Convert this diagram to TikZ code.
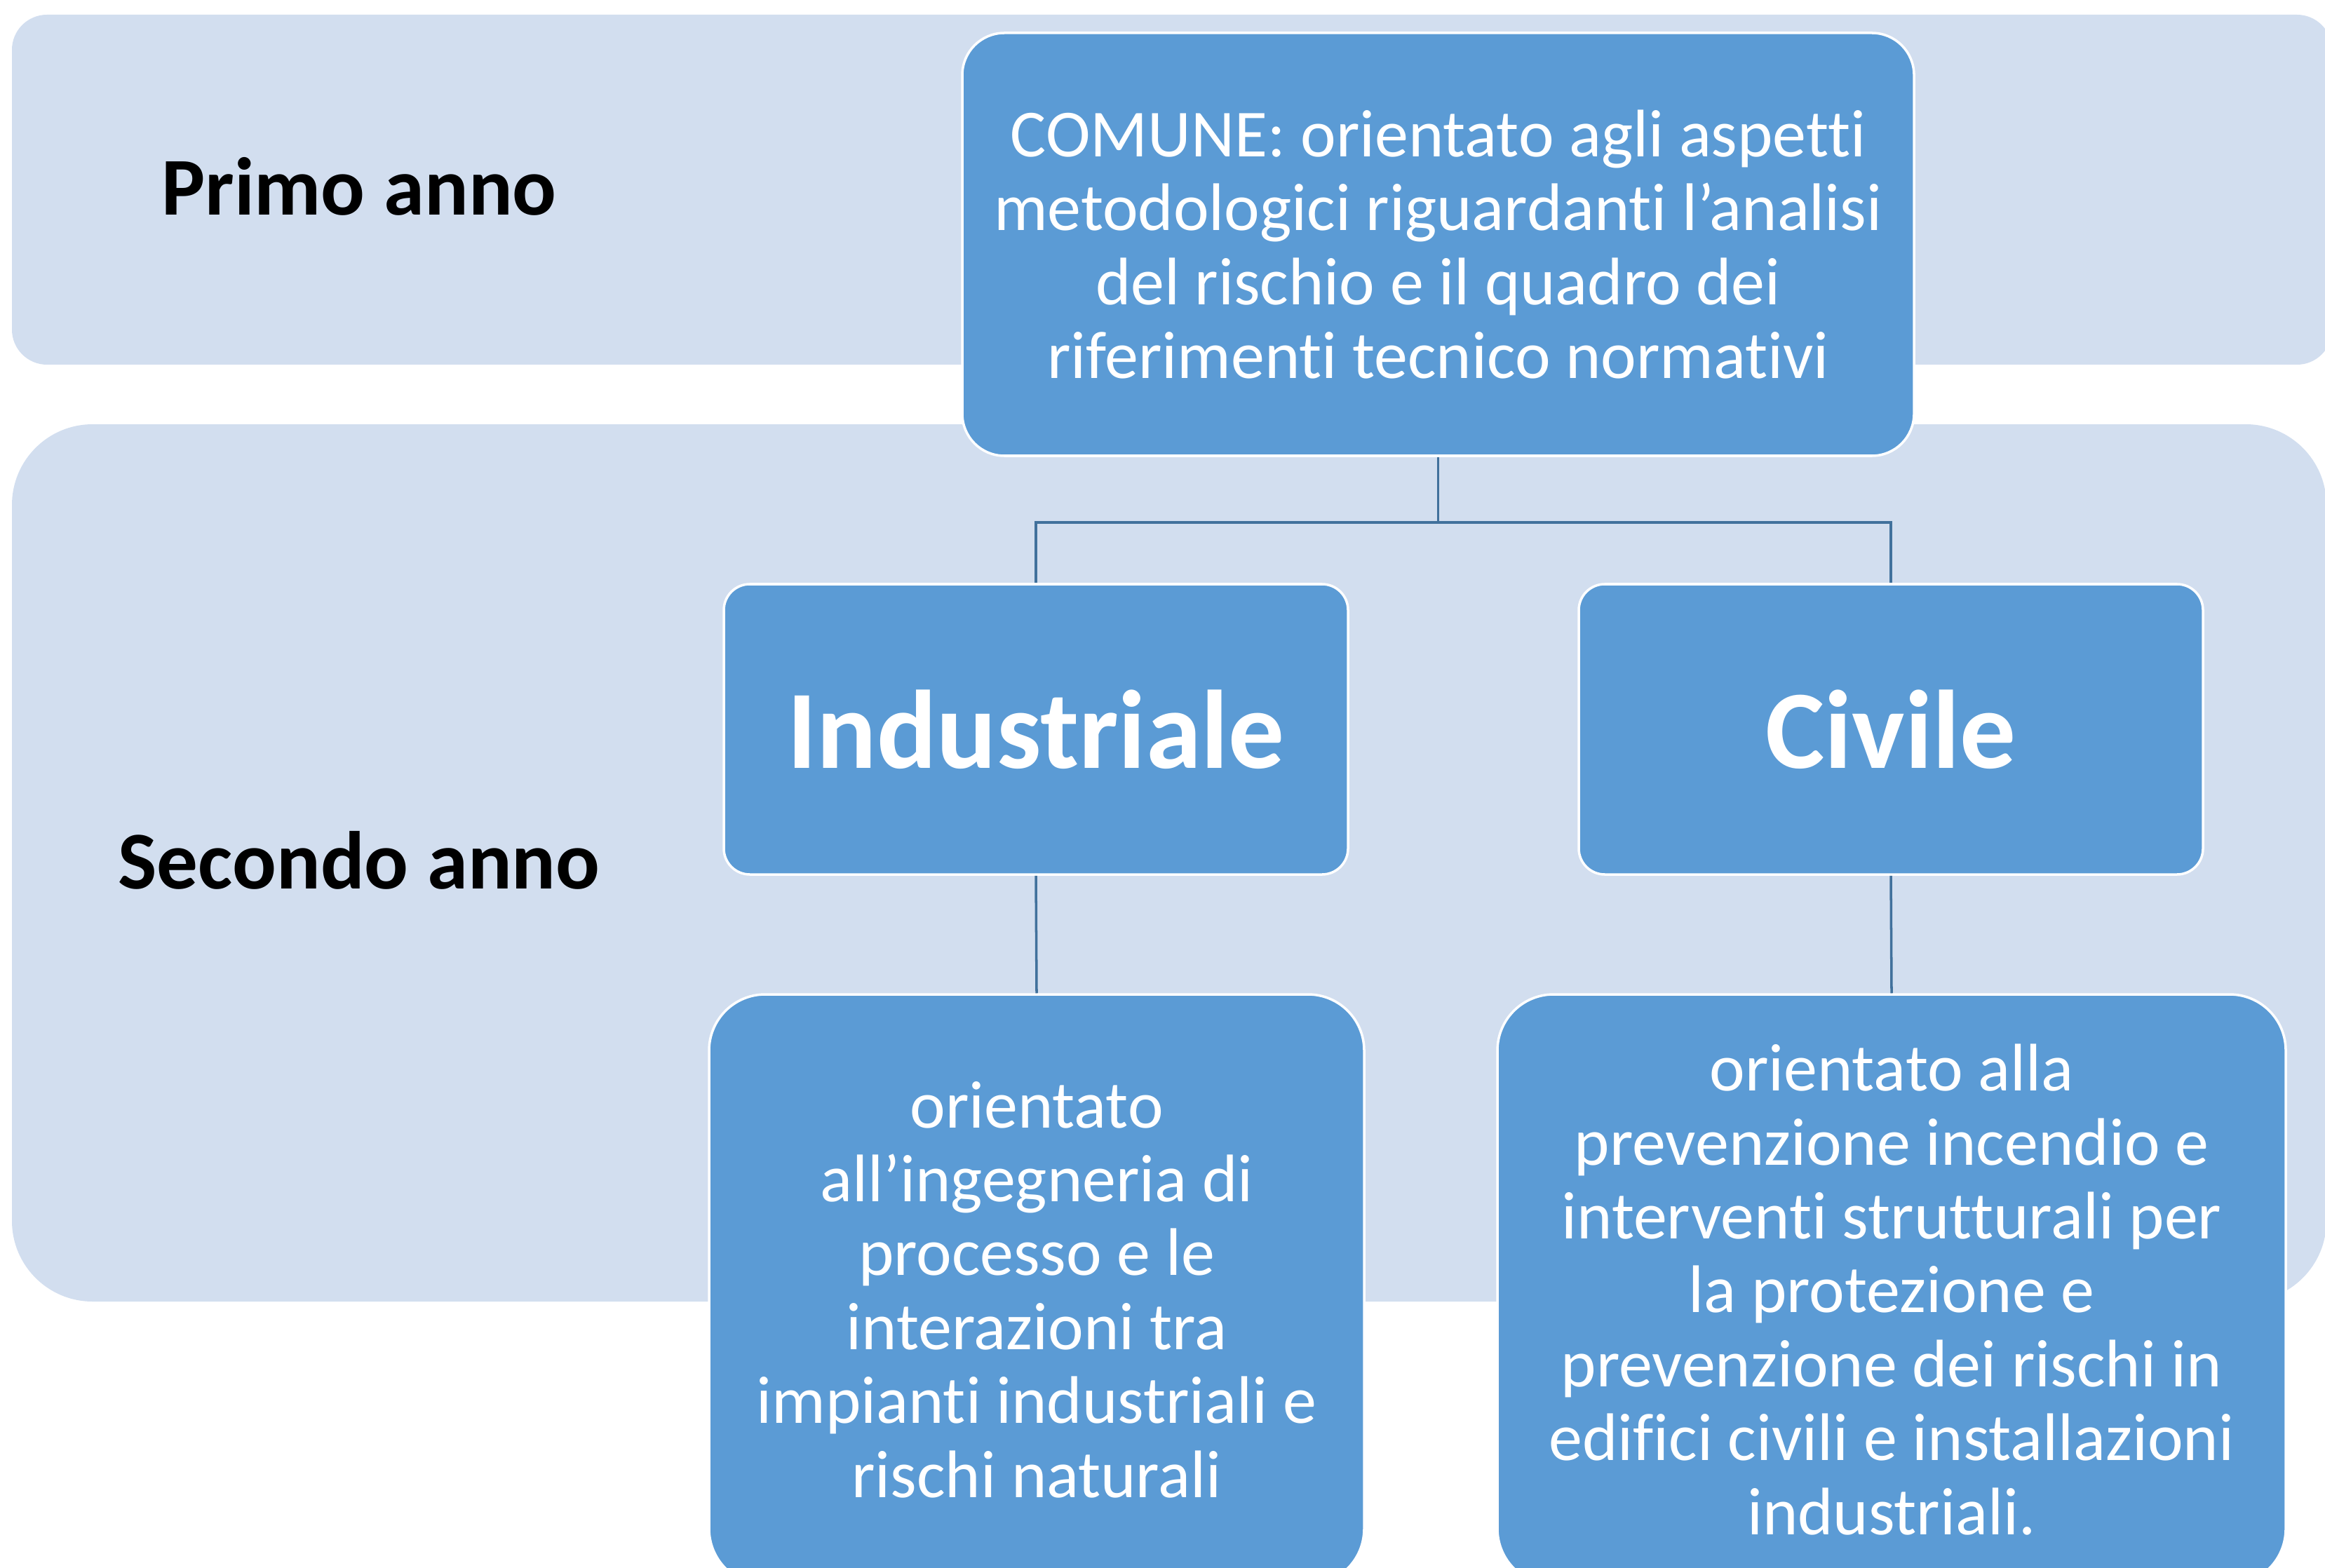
\documentclass[tikz,border=0pt]{standalone}
\usepackage{fontspec}
\setmainfont{Carlito}[Ligatures=CommonOff]

\definecolor{bandblue}{HTML}{D2DEEF}
\definecolor{boxblue}{HTML}{5B9BD5}
\definecolor{linkblue}{HTML}{41719C}

\tikzset{
	band/.style={fill=bandblue, rounded corners=#1},
	box/.style={draw=white, line width=1pt, fill=boxblue, rounded corners=#1,
		text=white, align=center, inner sep=0pt,
		font=\fontsize{27.3}{30}\selectfont},
	branch/.style={box=0.37cm, minimum width=8.90cm, minimum height=4.14cm,
		font=\fontsize{45.3}{54}\selectfont\bfseries},
	yearlabel/.style={font=\fontsize{33.3}{40}\selectfont\bfseries},
	link/.style={draw=linkblue, line width=1pt}
}

\begin{document}
\begin{tikzpicture}

\useasboundingbox (0,0) rectangle (33.15,-22.35);
\clip (0,0) rectangle (33.15,-22.35);

% fasce degli anni
\fill[band=0.5cm] (0.17,-0.21) rectangle (33.25,-5.20);
\fill[band=1.15cm] (0.17,-6.05) rectangle (33.17,-18.56);

\node[yearlabel] (primo) at (5.12,-2.66) {Primo anno};
\node[yearlabel] (secondo) at (5.12,-12.27) {Secondo anno};

\node[box=0.6cm, minimum width=13.57cm, minimum height=6.03cm] (comune) at (20.505,-3.485)
	{COMUNE: orientato agli aspetti\\metodologici riguardanti l’analisi\\del rischio e il quadro dei\\riferimenti tecnico normativi};

\node[branch] (ind) at (14.77,-10.40) {Industriale};
\node[branch] (civ) at (26.96,-10.40) {Civile};

\node[box=0.8cm, minimum width=9.34cm, minimum height=8.42cm] (indtxt) at (14.78,-18.39)
	{orientato\\all’ingegneria di\\processo e le\\interazioni tra\\impianti industriali e\\rischi naturali};
\node[box=0.8cm, minimum width=11.24cm, minimum height=8.42cm] (civtxt) at (26.97,-18.39)
	{orientato alla\\prevenzione incendio e\\interventi strutturali per\\la protezione e\\prevenzione dei rischi in\\edifici civili e installazioni\\industriali.};

% connettori
\draw[link] (comune.south) -- ++(0,-0.93) -| (ind.north);
\draw[link] (comune.south) -- ++(0,-0.93) -| (civ.north);
\draw[link] (ind.south) -- (indtxt.north);
\draw[link] (civ.south) -- (civtxt.north);

\end{tikzpicture}
\end{document}
